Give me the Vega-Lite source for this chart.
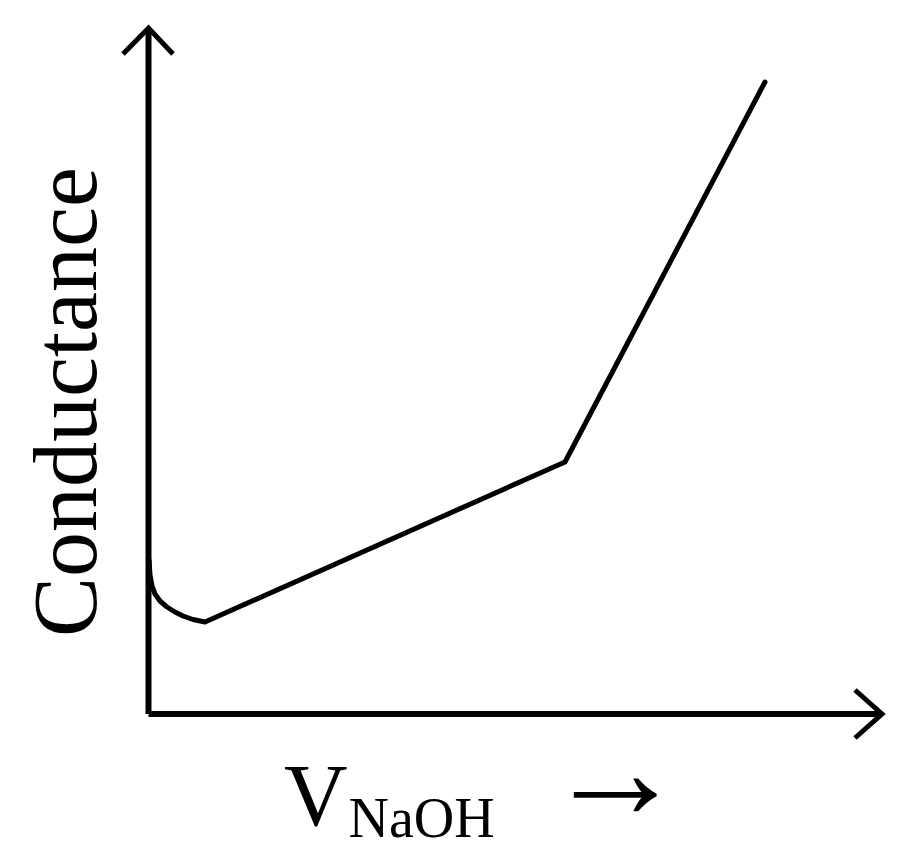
{
  "$schema": "https://vega.github.io/schema/vega-lite/v6.json",
  "autosize": {"type": "none"},
  "padding": 0,
  "width": 900,
  "height": 863,
  "background": "white",
  "datasets": {
    "curve": [
      {"v": 0.005, "k": 1.54},
      {"v": 0.015, "k": 1.39},
      {"v": 0.035, "k": 1.28},
      {"v": 0.065, "k": 1.2},
      {"v": 0.115, "k": 1.13},
      {"v": 0.185, "k": 1.07},
      {"v": 0.265, "k": 1.02},
      {"v": 0.345, "k": 0.98},
      {"v": 0.445, "k": 0.945},
      {"v": 0.565, "k": 0.92},
      {"v": 4.165, "k": 2.52},
      {"v": 6.165, "k": 6.32}
    ],
    "frame": [
      {"part": "yaxis", "i": 0, "v": 0, "k": 0},
      {"part": "yaxis", "i": 1, "v": 0, "k": 6.84},
      {"part": "xaxis", "i": 0, "v": 0, "k": 0},
      {"part": "xaxis", "i": 1, "v": 7.32, "k": 0}
    ],
    "heads": [
      {"part": "yhead", "i": 0, "v": -0.255, "k": 6.6},
      {"part": "yhead", "i": 1, "v": 0, "k": 6.86},
      {"part": "yhead", "i": 2, "v": 0.245, "k": 6.6},
      {"part": "xhead", "i": 0, "v": 7.065, "k": 0.24},
      {"part": "xhead", "i": 1, "v": 7.335, "k": 0.0},
      {"part": "xhead", "i": 2, "v": 7.065, "k": -0.24}
    ],
    "ylabel": [{"text": "Conductance", "v": -0.53, "k": 3.12}],
    "vlabel": [{"text": "V", "v": 1.355, "k": -1.11}],
    "sublabel": [{"text": "NaOH", "v": 2.0, "k": -1.23}],
    "arrowlabel": [{"text": "→", "v": 4.665, "k": -0.62}]
  },
  "encoding": {
    "x": {"field": "v", "type": "quantitative", "scale": {"domain": [-1.485, 7.515], "nice": false, "zero": false}, "axis": null},
    "y": {"field": "k", "type": "quantitative", "scale": {"domain": [-1.49, 7.14], "nice": false, "zero": false}, "axis": null}
  },
  "layer": [
    {
      "data": {"name": "frame"},
      "mark": {"type": "line", "color": "black", "strokeWidth": 6, "strokeCap": "butt"},
      "encoding": {"detail": {"field": "part"}, "order": {"field": "i"}}
    },
    {
      "data": {"name": "heads"},
      "mark": {"type": "line", "color": "black", "strokeWidth": 5, "strokeJoin": "miter", "strokeCap": "butt"},
      "encoding": {"detail": {"field": "part"}, "order": {"field": "i"}}
    },
    {
      "data": {"name": "curve"},
      "mark": {"type": "line", "color": "black", "strokeWidth": 5, "strokeJoin": "round", "strokeCap": "round"},
      "encoding": {"order": {"field": "v"}}
    },
    {
      "data": {"name": "ylabel"},
      "mark": {"type": "text", "font": "Liberation Serif", "fontSize": 90, "angle": 270, "align": "center", "baseline": "alphabetic", "color": "black"},
      "encoding": {"text": {"field": "text"}}
    },
    {
      "data": {"name": "vlabel"},
      "mark": {"type": "text", "font": "Liberation Serif", "fontSize": 88, "align": "left", "baseline": "alphabetic", "color": "black"},
      "encoding": {"text": {"field": "text"}}
    },
    {
      "data": {"name": "sublabel"},
      "mark": {"type": "text", "font": "Liberation Serif", "fontSize": 56, "align": "left", "baseline": "alphabetic", "color": "black"},
      "encoding": {"text": {"field": "text"}}
    },
    {
      "data": {"name": "arrowlabel"},
      "mark": {"type": "text", "font": "Liberation Serif", "fontSize": 140, "align": "center", "baseline": "middle", "color": "black"},
      "encoding": {"text": {"field": "text"}}
    }
  ],
  "config": {"view": {"stroke": null}}
}
